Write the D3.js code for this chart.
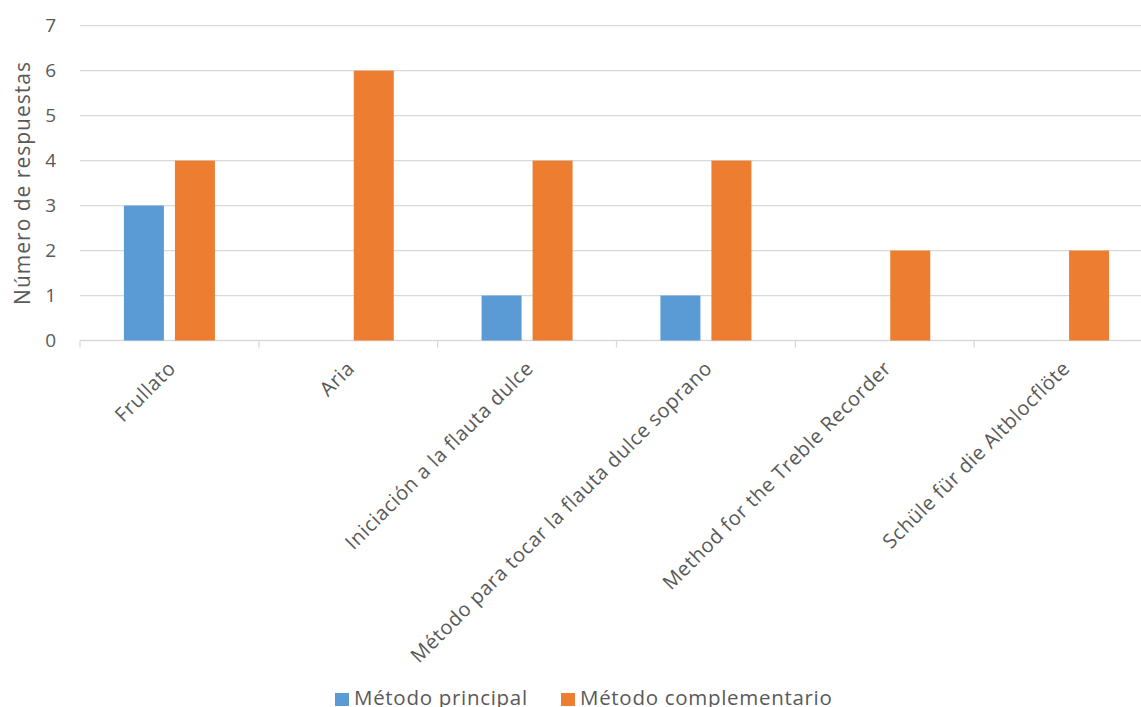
<!DOCTYPE html>
<html>
<head>
<meta charset="utf-8">
<script src="https://cdn.jsdelivr.net/npm/d3@7"></script>
<style>
  body { margin: 0; background: #fff; }
  svg { display: block; font-family: "Open Sans", sans-serif; }
</style>
</head>
<body>
<svg id="chart"></svg>
<script>
// data
const categories = [
    "Frullato",
    "Aria",
    "Iniciación a la flauta dulce",
    "Método para tocar la flauta dulce soprano",
    "Method for the Treble Recorder",
    "Schüle für die Altblocflöte"
];
const seriesNames = ["Método principal", "Método complementario"];
const principal = [3, 0, 1, 1, 0, 0];
const complementario = [4, 6, 4, 4, 2, 2];
const yTicks = [0, 1, 2, 3, 4, 5, 6, 7];
const colors = ["#5B9BD5", "#ED7D31"];

const width = 1141;
const height = 707;
const textColor = "#595959";

const svg = d3.select("#chart")
    .attr("width", width)
    .attr("height", height);

// plot runs past the right edge, the original was cropped
const x0 = d3.scaleBand()
    .domain(categories)
    .range([80, 1153])
    .padding(0);

const x1 = d3.scaleBand()
    .domain(seriesNames)
    .range([0, x0.bandwidth()])
    .paddingInner(0.2157)
    .paddingOuter(0.861);

const y = d3.scaleLinear()
    .domain([0, 7])
    .range([340.5, 25.7]);

// gridlines
svg.append("g")
    .selectAll("line")
    .data(yTicks)
    .enter()
    .append("line")
    .attr("x1", 80)
    .attr("x2", width)
    .attr("y1", d => y(d))
    .attr("y2", d => y(d))
    .attr("stroke", "#D9D9D9")
    .attr("stroke-width", 1.3);

// y tick labels
svg.append("g")
    .selectAll("text")
    .data(yTicks)
    .enter()
    .append("text")
    .attr("x", 56)
    .attr("y", d => y(d))
    .attr("dy", "0.35em")
    .attr("text-anchor", "end")
    .attr("fill", textColor)
    .style("font-size", "19px")
    .text(d => d);

// category tick marks
const bounds = categories.map(c => x0(c)).concat([x0.range()[1]]);
svg.append("g")
    .selectAll("line")
    .data(bounds)
    .enter()
    .append("line")
    .attr("x1", d => d)
    .attr("x2", d => d)
    .attr("y1", y(0))
    .attr("y2", y(0) + 7)
    .attr("stroke", "#D9D9D9")
    .attr("stroke-width", 1.3);

// bars
const rows = categories.map((c, i) => ({
    cat: c,
    values: [principal[i], complementario[i]]
}));

const groups = svg.append("g")
    .selectAll("g")
    .data(rows)
    .enter()
    .append("g")
    .attr("transform", d => `translate(${x0(d.cat)},0)`);

groups.selectAll("rect")
    .data(d => d.values.map((v, j) => ({ name: seriesNames[j], value: v, color: colors[j] })))
    .enter()
    .filter(d => d.value > 0)
    .append("rect")
    .attr("x", d => x1(d.name))
    .attr("y", d => y(d.value))
    .attr("width", x1.bandwidth())
    .attr("height", d => y(0) - y(d.value))
    .attr("fill", d => d.color);

// category labels, rotated
svg.append("g")
    .selectAll("text")
    .data(categories)
    .enter()
    .append("text")
    .attr("transform", d => `translate(${x0(d) + x0.bandwidth() / 2 - 3},359) rotate(-45)`)
    .attr("dy", "0.75em")
    .attr("text-anchor", "end")
    .attr("fill", textColor)
    .style("font-size", "20px")
    .style("letter-spacing", "0.6px")
    .text(d => d);

// y axis title
svg.append("text")
    .attr("transform", "translate(30,183) rotate(-90)")
    .attr("text-anchor", "middle")
    .attr("fill", textColor)
    .style("font-size", "21px")
    .style("letter-spacing", "1px")
    .text("Número de respuestas");

// legend
const legendX = [335, 561];
const legend = svg.append("g")
    .selectAll("g")
    .data(seriesNames)
    .enter()
    .append("g")
    .attr("transform", (d, i) => `translate(${legendX[i]},693)`);

legend.append("rect")
    .attr("width", 14)
    .attr("height", 13)
    .attr("fill", (d, i) => colors[i]);

legend.append("text")
    .attr("x", 19)
    .attr("y", 12)
    .attr("fill", textColor)
    .style("font-size", "20.5px")
    .style("letter-spacing", "0.7px")
    .text(d => d);
</script>
</body>
</html>
